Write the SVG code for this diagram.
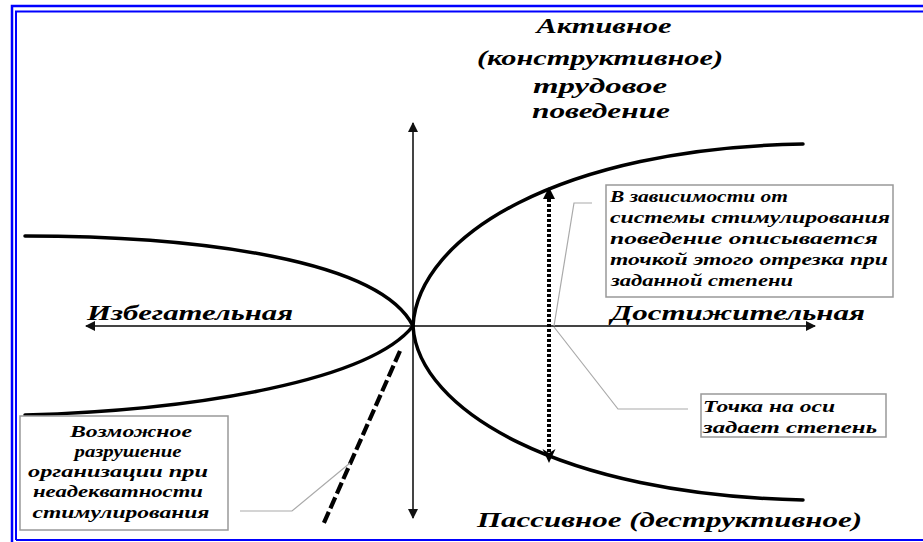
<svg xmlns="http://www.w3.org/2000/svg" width="923" height="542" viewBox="0 0 923 542">
<style>
.frame{fill:none;stroke:#0000ff}
.axis{fill:none;stroke:#444;stroke-width:2}
.curve{fill:none;stroke:#000;stroke-width:3.5;stroke-linecap:round}
.leader{fill:none;stroke:#aaa;stroke-width:1.2}
.box{fill:#fff;stroke:#999;stroke-width:1.5}
.t{font-family:"Liberation Serif","Times New Roman",serif;font-weight:bold;font-style:italic;fill:#000}
.big{font-size:22px}
.small{font-size:16px}
</style>
<defs>
<marker id="ah" viewBox="0 0 10 10" refX="9" refY="5" markerWidth="10" markerHeight="10" markerUnits="userSpaceOnUse" orient="auto">
<path d="M0,0 L10,5 L0,10 z" fill="#111"/>
</marker>
</defs>
<rect width="923" height="542" fill="#fff"/>
<g id="frame">
<path class="frame" stroke-width="2.5" d="M12,560 V6 H930"/>
<path class="frame" stroke-width="2" d="M16,540 V11.5 H930 M16,540 H930"/>
</g>
<g id="connectors">
<line class="axis" x1="413" y1="326" x2="413" y2="123" marker-end="url(#ah)"/>
<line class="axis" x1="413" y1="326" x2="413" y2="518" marker-end="url(#ah)"/>
<line class="axis" x1="413" y1="326" x2="86" y2="326" marker-end="url(#ah)"/>
<line class="axis" x1="413" y1="326" x2="815" y2="326" marker-end="url(#ah)"/>
<path class="curve" d="M413,326 C418,236 560,148 803,144"/>
<path class="curve" d="M413,326 C418,410 560,495 803,500"/>
<path class="curve" d="M25,236 C200,236 380,260 413,326"/>
<path class="curve" d="M25,415 C200,410 370,380 413,326"/>
<line x1="549" y1="199" x2="549" y2="452" stroke="#000" stroke-width="4" stroke-dasharray="3 2"/>
<path d="M549,187 L555,199 L543,199 z" fill="#000"/>
<path d="M549,463 L555.5,449 L549,453 L542.5,449 z" fill="#000"/>
<line x1="400" y1="351" x2="323" y2="525" stroke="#000" stroke-width="4.2" stroke-dasharray="12 4"/>
<polyline class="leader" points="592,203 574,203 554,326"/>
<polyline class="leader" points="554,327 618,409 688,409"/>
<polyline class="leader" points="240,511 292,511 350,463"/>
</g>
<g id="title">
<text class="t big" x="604" y="33" text-anchor="middle" textLength="135" lengthAdjust="spacingAndGlyphs">Активное</text>
<text class="t big" x="600" y="65" text-anchor="middle" textLength="246" lengthAdjust="spacingAndGlyphs">(конструктивное)</text>
<text class="t big" x="600" y="93" text-anchor="middle" textLength="134" lengthAdjust="spacingAndGlyphs">трудовое</text>
<text class="t big" x="601" y="118" text-anchor="middle" textLength="138" lengthAdjust="spacingAndGlyphs">поведение</text>
</g>
<g id="label-left">
<text class="t big" x="87" y="320" textLength="206" lengthAdjust="spacingAndGlyphs">Избегательная</text>
</g>
<g id="label-right">
<text class="t big" x="611" y="320" textLength="254" lengthAdjust="spacingAndGlyphs">Достижительная</text>
</g>
<g id="label-bottom">
<text class="t big" x="477" y="527" textLength="385" lengthAdjust="spacingAndGlyphs">Пассивное (деструктивное)</text>
</g>
<g id="box-segment">
<rect class="box" x="606" y="185" width="287" height="112"/>
<text class="t small" x="610" y="202" textLength="178" lengthAdjust="spacingAndGlyphs">В зависимости от</text>
<text class="t small" x="610" y="223" textLength="280" lengthAdjust="spacingAndGlyphs">системы стимулирования</text>
<text class="t small" x="610" y="244" textLength="268" lengthAdjust="spacingAndGlyphs">поведение описывается</text>
<text class="t small" x="610" y="265" textLength="278" lengthAdjust="spacingAndGlyphs">точкой этого отрезка при</text>
<text class="t small" x="611" y="286" textLength="182" lengthAdjust="spacingAndGlyphs">заданной степени</text>
</g>
<g id="box-point">
<rect class="box" x="701" y="394" width="185" height="43"/>
<text class="t small" x="703" y="412" textLength="132" lengthAdjust="spacingAndGlyphs">Точка на оси</text>
<text class="t small" x="703" y="433" textLength="174" lengthAdjust="spacingAndGlyphs">задает степень</text>
</g>
<g id="box-destruction">
<rect class="box" x="20" y="416" width="208" height="114"/>
<text class="t small" x="131" y="437" text-anchor="middle" textLength="122" lengthAdjust="spacingAndGlyphs">Возможное</text>
<text class="t small" x="128" y="457" text-anchor="middle" textLength="107" lengthAdjust="spacingAndGlyphs">разрушение</text>
<text class="t small" x="118" y="477" text-anchor="middle" textLength="180" lengthAdjust="spacingAndGlyphs">организации при</text>
<text class="t small" x="118" y="497" text-anchor="middle" textLength="170" lengthAdjust="spacingAndGlyphs">неадекватности</text>
<text class="t small" x="121" y="518" text-anchor="middle" textLength="177" lengthAdjust="spacingAndGlyphs">стимулирования</text>
</g>
</svg>
